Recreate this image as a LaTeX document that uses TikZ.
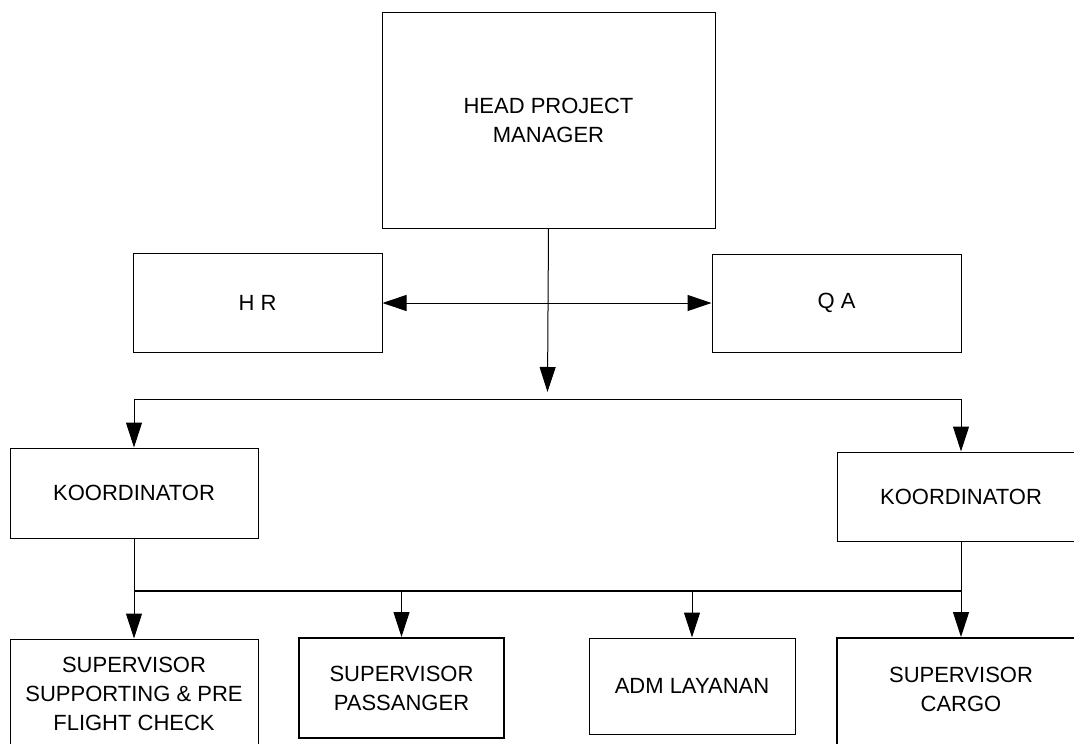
\documentclass[tikz,border=0pt]{standalone}
\usepackage{fontspec}
\setmainfont{Liberation Sans}
\usetikzlibrary{arrows.meta}
\newcommand{\thinwidth}{1pt}
\newcommand{\thickwidth}{2pt}
\newcommand{\boxfont}{\fontsize{22}{29}\selectfont}
\tikzset{
	unit/.style={draw, inner sep=0pt, align=center, font=\boxfont, line width=\thinwidth},
	tip/.style={line width=\thinwidth, -{Triangle[length=25pt,width=16pt]}},
	twotip/.style={line width=\thinwidth, {Triangle[length=24pt,width=16pt]}-{Triangle[length=24pt,width=16pt]}},
}
\begin{document}
\begin{tikzpicture}[x=1pt, y=-1pt]
			\useasboundingbox (0, 0) rectangle (1074, 744);
			\clip (0, 0) rectangle (1074, 744);
			\fill[white] (0, 0) rectangle (1074, 744);

			% top level
			\node[unit, minimum width=333pt, minimum height=216pt] (head) at (548.5, 120) {HEAD PROJECT\\MANAGER};
			\node[unit, minimum width=249pt, minimum height=99pt] (hr) at (257.5, 303) {H R};
			\node[unit, minimum width=249pt, minimum height=98pt] (qa) at (836.5, 303) {Q A};

			% coordinators
			\node[unit, minimum width=248pt, minimum height=90pt] (koorL) at (134, 493) {KOORDINATOR};
			\node[unit, minimum width=248pt, minimum height=89pt] (koorR) at (961, 496.5) {KOORDINATOR};

			% supervisors
			\node[unit, minimum width=248pt, minimum height=110pt] (supSupport) at (134, 694)
				{SUPERVISOR\\SUPPORTING \& PRE\\FLIGHT CHECK};
			\node[unit, line width=\thickwidth, minimum width=205pt, minimum height=100pt] (supPass) at (401.5, 688)
				{SUPERVISOR\\PASSANGER};
			\node[unit, minimum width=206pt, minimum height=96pt] (adm) at (692, 686) {ADM LAYANAN};
			\node[unit, line width=\thickwidth, minimum width=248pt, minimum height=112pt] (supCargo) at (961, 694) {};
			\node[font=\boxfont, align=center, inner sep=0pt] (supCargoText) at (961, 689) {SUPERVISOR\\CARGO};

			\coordinate (hub) at (547.5, 392);
			\coordinate (busTop) at (547.5, 399);
			\coordinate (busLow) at (547.5, 591);

			% connectors
			\draw[tip] (head.south) -- (hub);
			\draw[twotip] (hr.east) -- (qa.west);
			\draw[tip] (busTop) -| (koorL.north);
			\draw[tip] (busTop) -| (koorR.north);

			\draw[line width=\thickwidth] (koorL.south |- busLow) -- (koorR.south |- busLow);
			\draw[tip] (koorL.south) -- (supSupport.north);
			\draw[tip] (koorR.south) -- (supCargo.north);
			\draw[tip] (supPass.north |- busLow) -- (supPass.north);
			\draw[tip] (adm.north |- busLow) -- (adm.north);

		\end{tikzpicture}
\end{document}
